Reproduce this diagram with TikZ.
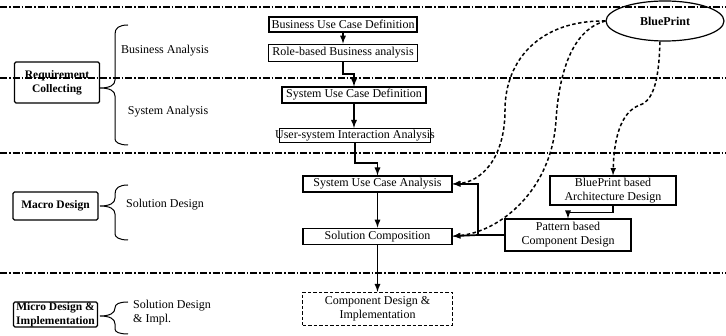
\documentclass[tikz,border=0pt]{standalone}
\usepackage{fontspec}
\setmainfont{Liberation Serif}
\usepackage{tikz}
\usetikzlibrary{arrows,calc,
                shapes,positioning}

\begin{document}
\begin{tikzpicture}[x = 1pt, y = -1pt]
  \tikzset{box/.style = {shape = rectangle, draw = black, line width = 1.2pt, inner sep = 0pt, align = center, font = \fontsize{12}{14}\selectfont}}
  \tikzset{phase/.style = {box, rounded corners = 1.5pt, font = \fontsize{11.5}{14}\selectfont\bfseries}}
  \tikzset{note/.style = {align = left, inner sep = 0pt, font = \fontsize{12}{14}\selectfont}}
  \tikzset{divider/.style = {line width = 1.7pt, dash pattern = on 7pt off 2pt on 1.5pt off 2pt}}
  \tikzset{flow/.style = {line width = 1.7pt, -latex}}
  \tikzset{link/.style = {line width = 1.5pt, dash pattern = on 3.5pt off 2.5pt, -latex}}
  \tikzset{curl/.style = {line width = 1pt}}

  \useasboundingbox (0,0) rectangle (726,336);

  % phases on the left
  \node[phase, minimum width = 85pt, minimum height = 41pt] (Req) at (57,82.5) {Requirement\\Collecting};
  \node[phase, minimum width = 85pt, minimum height = 28pt] (Macro) at (55.5,206) {Macro Design};
  \node[phase, minimum width = 84pt, minimum height = 25pt] (Micro) at (55.5,314.5) {Micro Design \&\\Implementation};

  \node[note] (BA) at (165,51) {Business Analysis};
  \node[note] (SA) at (168,112) {System Analysis};
  \node[note] (SD) at (165,205) {Solution Design};
  \node[note, anchor = west] (SDI) at (133,312.5) {Solution Design\\\& Impl.};

  % braces
  \draw[curl] (128,25) .. controls (119,25) and (115,28) .. (115,34) -- (115,80) .. controls (115,85) and (110,88) .. (100,88)
              .. controls (110,88) and (115,91) .. (115,96) -- (115,139) .. controls (115,142) and (119,145) .. (128,145);
  \draw[curl] (128,185) .. controls (119,185) and (115,188) .. (115,194) -- (115,198) .. controls (115,203) and (110,206) .. (100,206)
              .. controls (110,206) and (115,209) .. (115,214) -- (115,234) .. controls (115,237) and (119,240) .. (128,240);
  \draw[curl] (128,302) .. controls (119,302) and (115,304) .. (115,308) .. controls (115,313) and (110,316) .. (100,316)
              .. controls (110,316) and (115,319) .. (115,324) -- (115,329) .. controls (115,332) and (119,334) .. (128,334);

  % process chain
  \node[box, minimum width = 148pt, minimum height = 15pt] (BUCD) at (343,24.5) {Business Use Case Definition};
  \node[box, minimum width = 149pt, minimum height = 17pt, below = 11pt of BUCD] (RBA) {Role-based Business analysis};
  \node[box, minimum width = 144pt, minimum height = 16pt] (SUCD) at (354,95) {System Use Case Definition};
  \node[box, inner xsep = -4.5pt, minimum height = 14pt] (UIA) at (355,135.5) {User-system Interaction Analysis};
  \node[box, minimum width = 149pt, minimum height = 16pt] (SUCA) at (377.5,184) {System Use Case Analysis};
  \node[box, minimum width = 149pt, minimum height = 16pt, below = 35pt of SUCA] (SC) {Solution Composition};
  \node[box, dash pattern = on 3.5pt off 2pt, minimum width = 150pt, minimum height = 33pt, below = 47pt of SC] (CDI) {Component Design \&\\Implementation};

  \node[box, minimum width = 126pt, minimum height = 29pt] (BPAD) at (613,190.5) {BluePrint based\\Architecture Design};
  \node[box, minimum width = 126pt, minimum height = 32pt] (PBCD) at (568,235) {Pattern based\\Component Design};
  \node[ellipse, draw = black, line width = 1.2pt, minimum width = 118pt, minimum height = 40pt, inner sep = 0pt,
        font = \fontsize{12}{14}\selectfont\bfseries] (BP) at (665,21) {BluePrint};
  \coordinate (Join) at (478,235);

  \draw[flow] (BUCD.south) -- (BUCD.south |- RBA.north);
  \draw[flow] (RBA.south) -- ++(0,12) -| (SUCD.north);
  \draw[flow] (SUCD.south) -- (SUCD.south |- UIA.north);
  \draw[flow] (UIA.south) -- ++(0,20) -| (SUCA.north);
  \draw[flow] (SUCA) -- (SC);
  \draw[flow] (SC) -- (CDI);
  \draw[flow] (BPAD.south) -- ++(0,7) -| (PBCD.north);
  \draw[line width = 1.7pt] (PBCD.west) -- (Join);
  \draw[flow] (Join) -- (SC.east);
  \draw[flow] (Join) |- (SUCA.east);

  % blueprint links
  \draw[link] (BP.west) .. controls (540,20) and (505,60) .. (505,110) .. controls (505,160) and (480,182) .. (SUCA.east);
  \draw[link] (BP.west) .. controls (578,28) and (560,60) .. (556,120) .. controls (552,190) and (500,232) .. (SC.east);
  \draw[link] ([xshift = -5pt]BP.south) .. controls (659,75) and (655,100) .. (640,105) .. controls (620,112) and (614,140) .. (BPAD.north);

  % phase borders
  \draw[divider] (0,7) -- (726,7);
  \draw[divider] (0,78) -- (726,78);
  \draw[divider] (0,153) -- (726,153);
  \draw[divider] (0,273) -- (726,273);

\end{tikzpicture}
\end{document}
